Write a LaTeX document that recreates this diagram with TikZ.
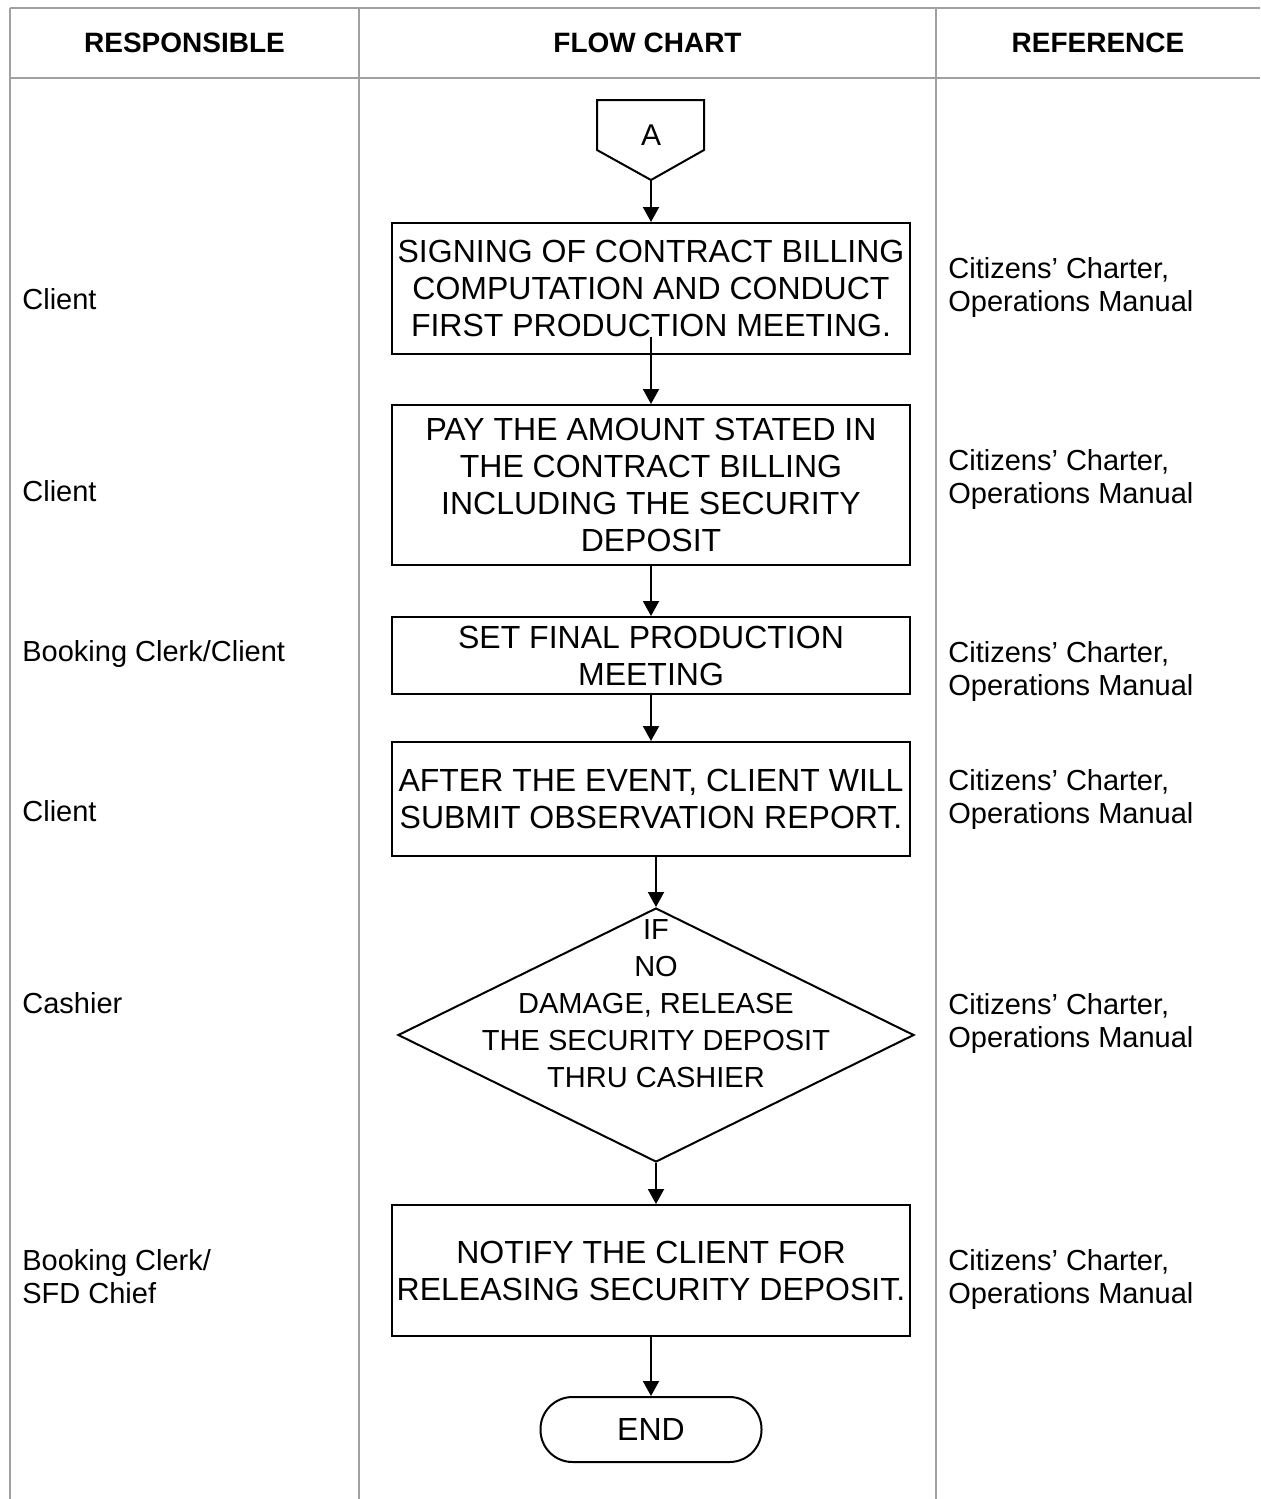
\documentclass[tikz,border=0pt]{standalone}
\usepackage{fontspec}
\setmainfont{Liberation Sans}
\usetikzlibrary{arrows.meta,shapes.geometric}
\definecolor{rulegray}{RGB}{160,160,160}
\tikzset{
  rule/.style={draw=rulegray, line width=0.75pt},
  hdr/.style={inner sep=0pt, font=\fontsize{14}{17}\selectfont\bfseries},
  lbl/.style={anchor=west, align=left, inner sep=0pt, font=\fontsize{14.5}{16.5}\selectfont},
  box/.style={draw, line width=1pt, minimum width=259pt, inner sep=0pt, align=center,
    font=\fontsize{16}{18.5}\selectfont},
  dec/.style={draw, diamond, line width=1pt, minimum width=258pt, minimum height=127pt, inner sep=0pt},
  dectext/.style={align=center, inner sep=0pt, font=\fontsize{14.5}{18.5}\selectfont},
  term/.style={draw, line width=1pt, rounded corners=16pt, minimum width=110.5pt,
    minimum height=32.5pt, inner sep=0pt, font=\fontsize{16}{18.5}\selectfont},
  flow/.style={line width=1pt, -{Triangle[length=7.5pt,width=8pt]}}
}
\begin{document}
\begin{tikzpicture}[x=0.5pt, y=-0.5pt]
  \useasboundingbox (0,0) rectangle (1260,1499);

  \draw[rule] (10,8) -- (1260,8);
  \draw[rule] (10,78) -- (1260,78);
  \foreach \x in {10,359,936}
    \draw[rule] (\x,8) -- (\x,1499);

  \node[hdr] (hresp) at (184.5,43) {RESPONSIBLE};
  \node[hdr] (hflow) at (647.5,43) {FLOW CHART};
  \node[hdr] (href) at (1098,43) {REFERENCE};

  \draw[line width=1pt] (597,100) -- (704,100) -- (704,150) -- (651,180) coordinate (atip)
    -- (597,150) -- cycle;
  \node[inner sep=0pt, font=\fontsize{15}{17}\selectfont] (cona) at (651,135) {A};

  \node[box, minimum height=65.5pt] (b1) at (651,288.5)
    {SIGNING OF CONTRACT BILLING\\COMPUTATION AND CONDUCT\\FIRST PRODUCTION MEETING.};
  \node[box, minimum height=80pt] (b2) at (651,485)
    {PAY THE AMOUNT STATED IN\\THE CONTRACT BILLING\\INCLUDING THE SECURITY\\DEPOSIT};
  \node[box, minimum height=38.5pt] (b3) at (651,655.5)
    {SET FINAL PRODUCTION\\MEETING};
  \node[box, minimum height=57pt] (b4) at (651,799)
    {AFTER THE EVENT, CLIENT WILL\\SUBMIT OBSERVATION REPORT.};
  \node[dec] (d5) at (656,1035) {};
  \node[dectext] (d5text) at (656,1003.5)
    {IF\\NO\\DAMAGE, RELEASE\\THE SECURITY DEPOSIT\\THRU CASHIER};
  \node[box, minimum height=65.5pt] (b6) at (651,1270.5)
    {NOTIFY THE CLIENT FOR\\RELEASING SECURITY DEPOSIT.};
  \node[term] (end) at (651,1429.5) {END};

  \draw[flow] (atip) -- (b1.north);
  \draw[flow] ([yshift=9pt]b1.south) -- (b2.north);
  \draw[flow] (b2.south) -- (b3.north);
  \draw[flow] (b3.south) -- (b4.north);
  \draw[flow] (b4.south -| d5.north) -- (d5.north);
  \draw[flow] (d5.south) -- (d5.south |- b6.north);
  \draw[flow] (b6.south) -- (end.north);

  \node[lbl] (resp1) at (22,299) {Client};
  \node[lbl] (resp2) at (22,491) {Client};
  \node[lbl] (resp3) at (22,654) {Booking Clerk/Client};
  \node[lbl] (resp4) at (22,811) {Client};
  \node[lbl] (resp5) at (22,1003) {Cashier};
  \node[lbl] (resp6) at (22,1277) {Booking Clerk/\\SFD Chief};

  \foreach \y/\n in {287/1,479/2,671/3,799/4,1023/5,1279/6}
    \node[lbl] (ref\n) at (948,\y) {Citizens' Charter,\\Operations Manual};
\end{tikzpicture}
\end{document}
